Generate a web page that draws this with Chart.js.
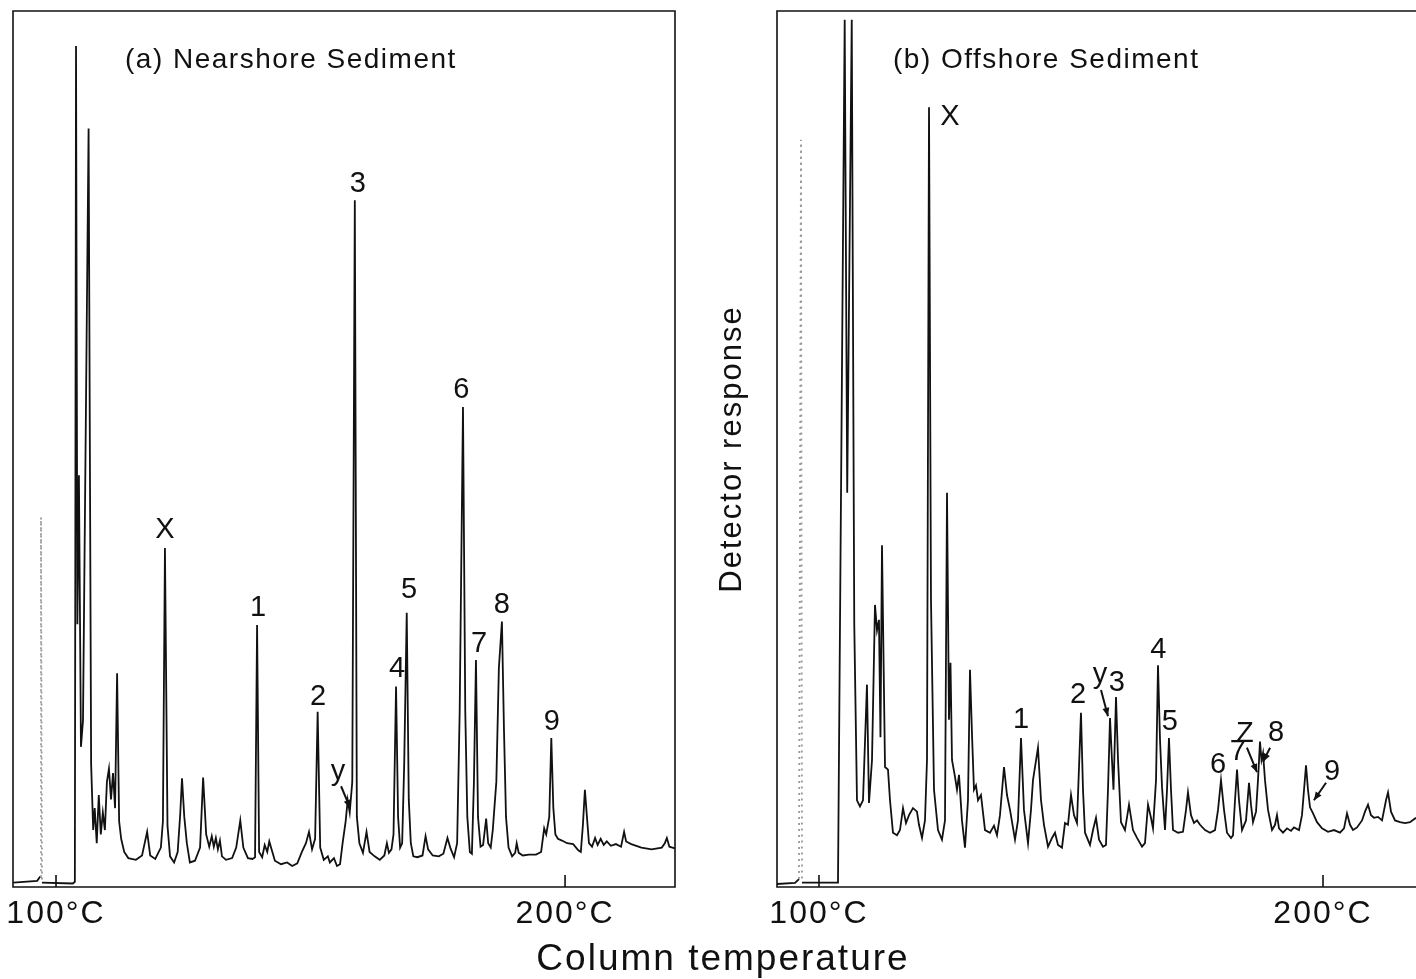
<!DOCTYPE html>
<html lang="en">
<head>
<meta charset="UTF-8">
<title>Sediment chromatograms</title>
<script src="https://cdn.jsdelivr.net/npm/chart.js"></script>
<style>
    body {
        margin: 0;
        width: 1416px;
        height: 979px;
        overflow: hidden;
        position: relative;
        background: #fff;
        font-family: "Liberation Sans", Arial, sans-serif;
    }
    #nearshore { position: absolute; left: 0; top: 0; }
    #offshore { position: absolute; left: 690px; top: 0; }
    #x-title {
        position: absolute;
        left: 423px;
        top: 939px;
        width: 600px;
        text-align: center;
        font-size: 37px;
        line-height: 37px;
        letter-spacing: 2px;
        color: #111;
    }
</style>
</head>
<body>
<canvas id="nearshore" width="690" height="945"></canvas>
<canvas id="offshore" width="740" height="945"></canvas>
<div id="x-title">Column temperature</div>

<script>
// temperature axis labels
const tickTemps = [100, 200];

// (a) nearshore trace: [column temperature °C, detector response]
const nearshorePoints = [
    [91.6,0.5],[96.3,0.7],[96.9,1.2],[97.05,42.2],[97.25,0.5],[103.3,0.4],[103.7,0.6],[103.93,96],
    [104.2,30],[104.5,47],[104.9,16],[105.3,19],[106.4,86.6],[106.9,14],[107.3,6.5],[107.6,9],
    [108.0,5],[108.4,10.5],[108.8,6],[109.2,8.5],[109.6,6.5],[110.0,12],[110.4,13.5],[110.8,10],
    [111.2,13],[111.6,9],[112.0,24.4],[112.4,7.5],[112.8,5.5],[113.4,4],[114.2,3.3],[115.7,3.1],
    [116.9,3.6],[117.9,6.3],[118.5,3.6],[119.5,3.2],[120.6,4.5],[121.0,7.5],[121.4,38.7],[121.9,7],
    [122.4,3.5],[123.2,2.8],[123.9,4],[124.4,8.3],[124.75,12.4],[125.2,8],[125.7,5],[126.3,2.8],
    [127.3,3],[128.3,4.5],[128.9,12.5],[129.5,6],[130.1,4.6],[130.6,5.8],[131.0,4.6],[131.4,5.6],
    [131.8,4.3],[132.2,5.3],[132.6,3.5],[133.4,3.1],[134.6,3.3],[135.4,4.5],[136.2,7.6],[136.8,4.5],
    [137.7,3.3],[138.6,3.2],[139.1,3.4],[139.5,29.9],[139.9,4],[140.5,3.4],[141.0,4.8],[141.5,4],
    [141.9,5.2],[142.4,4.2],[143.0,3.0],[144.2,2.6],[145.4,2.8],[146.4,2.4],[147.4,2.7],[148.3,4],
    [149.1,5],[149.7,6.3],[150.3,4.3],[150.9,5.5],[151.4,20],[151.9,4.5],[152.6,3.1],[153.4,3.5],
    [153.8,2.8],[154.6,3.3],[155.2,2.4],[155.8,2.6],[156.3,5],[156.9,7.5],[157.3,9.9],[157.7,8.5],
    [158.2,12],[158.7,78.4],[159.1,8],[159.6,5],[160.3,3.9],[161.0,6.3],[161.6,4],[162.6,3.5],
    [163.6,3.1],[164.5,3.6],[165.0,5],[165.4,3.9],[165.9,4.3],[166.3,6],[166.8,22.9],[167.2,8],
    [167.6,4.5],[168.0,5],[168.4,14],[168.9,31.3],[169.3,10],[169.7,5],[170.2,3.5],[171.0,3.4],
    [172.0,3.6],[172.6,5.8],[173.1,4.3],[174.0,3.6],[175.2,3.5],[176.1,3.8],[176.9,5.6],[177.5,4.4],
    [178.2,3.4],[178.8,5],[179.3,20],[179.95,54.8],[180.4,20],[180.8,8],[181.3,4],[181.7,3.8],
    [182.1,12],[182.5,25.9],[182.9,8],[183.4,4.6],[183.9,4.8],[184.5,7.8],[184.9,5],[185.4,4.5],
    [185.8,6.5],[186.5,12],[187.0,25],[187.6,30.3],[188.0,18],[188.4,8],[188.9,4.5],[189.6,3.5],
    [190.2,3.9],[190.5,5],[190.9,3.9],[191.7,3.6],[192.9,3.7],[194.3,3.7],[195.3,4],[195.9,6.7],
    [196.3,6],[196.9,8],[197.3,17],[197.7,9],[198.1,6],[198.6,5.5],[199.4,5.3],[200.4,5],
    [201.6,4.9],[202.6,4.2],[203.1,4],[203.5,7],[203.9,11.1],[204.3,8],[204.7,5],[205.3,4.6],
    [205.9,5.6],[206.4,4.8],[207.0,5.5],[207.6,4.8],[208.2,5.2],[209.0,4.7],[210.0,4.9],[211.0,4.6],
    [211.6,6.3],[212.0,5.2],[213.0,4.9],[215.0,4.5],[217.0,4.3],[219.0,4.5],[219.6,5],[220.0,5.6],
    [220.5,4.6],[221.6,4.4]
];

// (b) offshore trace
const offshorePoints = [
    [91.67,0.34],[95.24,0.46],[96.03,0.9],[96.43,85.3],[96.63,0.5],[103.77,0.5],[105.1,99],[105.6,45],
    [106.5,99],[107.0,30],[107.54,9.9],[108.13,9.2],[108.73,9.9],[109.52,23.1],[109.92,9.6],[110.52,14.5],
    [111.11,32.2],[111.51,29.3],[111.9,30.5],[112.2,17.1],[112.5,39.0],[113.1,13.7],[113.69,13.4],[114.09,9.9],
    [114.68,6.2],[115.48,5.9],[116.07,6.5],[116.67,9.0],[117.26,7.3],[117.86,8.2],[118.65,9.0],[119.44,8.6],
    [119.84,7.1],[120.44,5.6],[121.03,7.6],[121.43,14.5],[121.83,89.0],[122.22,32.8],[122.82,11.1],[123.61,6.5],
    [124.4,5.4],[125.0,7.6],[125.4,45.0],[125.79,19.1],[126.09,25.6],[126.39,14.5],[126.98,12.6],[127.38,11.1],
    [127.78,12.8],[128.37,7.6],[128.97,4.5],[129.56,9.9],[129.96,24.8],[130.36,17.4],[130.75,11.1],[131.15,11.6],
    [131.55,9.9],[132.14,10.5],[132.94,6.5],[133.93,6.2],[134.72,7.0],[135.32,5.9],[135.91,8.2],[136.71,13.7],
    [137.3,10.5],[137.9,8.8],[138.89,5.4],[139.48,7.6],[140.08,17.0],[140.67,8.8],[141.47,5.0],[142.06,8.8],
    [142.46,12.2],[143.45,15.9],[144.05,9.9],[144.64,7.1],[145.44,4.6],[146.23,5.6],[146.83,6.2],[147.42,4.8],
    [148.21,4.5],[148.81,7.3],[149.4,7.1],[150.0,10.5],[150.6,8.2],[151.19,7.3],[151.98,19.9],[152.38,11.1],
    [152.78,6.2],[153.77,4.8],[154.37,6.5],[154.96,7.9],[155.56,5.4],[156.35,4.6],[156.94,4.8],[157.34,11.1],
    [157.74,19.3],[158.13,14.5],[158.43,11.1],[158.93,21.7],[159.33,14.5],[159.92,7.4],[160.71,6.5],[161.51,9.4],
    [162.3,6.5],[163.1,5.6],[164.09,4.6],[164.68,5.0],[165.28,9.4],[165.87,7.9],[166.27,6.7],[166.87,12.2],
    [167.26,25.3],[167.66,16.8],[168.06,11.4],[168.65,6.5],[169.05,11.1],[169.44,17.0],[169.84,11.1],[170.24,6.5],
    [171.23,6.2],[172.22,6.3],[172.82,8.8],[173.21,10.8],[173.81,8.2],[174.4,7.3],[175.0,7.6],[175.6,7.1],
    [176.59,6.5],[177.58,6.2],[178.57,6.5],[179.17,8.8],[179.76,12.2],[180.36,8.8],[180.95,6.2],[181.75,5.6],
    [182.14,5.9],[182.54,9.9],[182.94,13.4],[183.33,9.9],[183.93,6.5],[184.72,7.6],[185.32,11.9],[185.71,9.4],
    [186.11,7.4],[186.71,8.6],[187.1,12.2],[187.5,16.6],[187.8,14.5],[188.1,15.3],[188.49,12.2],[189.09,8.8],
    [189.88,6.5],[190.48,7.1],[190.87,8.2],[191.27,6.7],[192.06,6.2],[192.86,6.7],[193.65,6.4],[194.25,6.8],
    [195.24,6.5],[195.83,8.2],[196.63,13.9],[197.02,11.1],[197.42,9.1],[198.02,8.4],[198.81,7.4],[199.8,6.7],
    [200.99,6.3],[202.18,6.5],[203.37,6.2],[204.17,6.7],[204.76,8.4],[205.36,7.1],[205.95,6.5],[206.75,6.8],
    [207.74,7.6],[208.33,8.6],[208.93,9.4],[209.52,8.2],[210.12,7.9],[210.91,8.0],[211.71,7.6],[212.5,9.9],
    [212.9,10.8],[213.49,8.6],[214.29,7.6],[215.28,7.4],[216.27,7.3],[217.26,7.4],[218.45,7.9]
];

// peak labels (text, temperature, response where the label sits)
const nearLabels = ['X', '1', '2', 'y', '3', '4', '5', '6', '7', '8', '9'];
const nearLabelTemps = [121.4, 139.7, 151.5, 155.4, 159.3, 167.0, 169.35, 179.6, 183.1, 187.6, 197.4];
const nearLabelResp = [40.8, 31.8, 21.7, 13.1, 80.3, 24.9, 33.9, 56.7, 27.7, 32.2, 18.8];
const nearArrows = [[156.0, 11.5, 157.8, 9.0]];

const offLabels = ['X', '1', '2', 'y', '3', '4', '5', '6', '7', 'Z', '8', '9'];
const offLabelTemps = [126.0, 140.1, 151.4, 155.75, 159.1, 167.3, 169.6, 179.2, 183.1, 184.5, 190.7, 201.8];
const offLabelResp = [87.9, 19.1, 21.9, 24.2, 23.3, 27.1, 18.8, 13.9, 15.4, 17.5, 17.6, 13.1];
const offArrows = [[155.95, 22.5, 157.34, 19.5], [184.9, 15.9, 186.9, 13.1], [189.5, 15.9, 188.1, 14.3], [200.6, 11.9, 198.2, 9.9]];

const INK = '#111';

// frame, tick marks, panel title, peak labels and arrows
const decorPlugin = {
    id: 'decor',
    beforeDraw(chart) {
        chart.ctx.letterSpacing = '2px';
    },
    afterDraw(chart, args, o) {
        const { ctx, chartArea: a, scales: { x, y } } = chart;
        ctx.save();
        ctx.letterSpacing = '0px';
        ctx.strokeStyle = INK;
        ctx.fillStyle = INK;
        ctx.lineWidth = 1.6;

        ctx.beginPath();
        if (o.closed) {
            ctx.rect(a.left, a.top, a.right - a.left, a.bottom - a.top);
        } else {
            ctx.moveTo(a.right + 2, a.top);
            ctx.lineTo(a.left, a.top);
            ctx.lineTo(a.left, a.bottom);
            ctx.lineTo(a.right + 2, a.bottom);
        }
        tickTemps.forEach(t => {
            const px = x.getPixelForValue(t);
            ctx.moveTo(px, a.bottom);
            ctx.lineTo(px, a.bottom - 12);
        });
        ctx.stroke();

        ctx.font = '28px "Liberation Sans", Arial, sans-serif';
        ctx.letterSpacing = '1.5px';
        ctx.textAlign = 'left';
        ctx.textBaseline = 'alphabetic';
        ctx.fillText(o.title, a.left + o.titleDx, a.top + 57);

        ctx.letterSpacing = '0px';
        ctx.font = '29px "Liberation Sans", Arial, sans-serif';
        ctx.textAlign = 'center';
        ctx.textBaseline = 'middle';
        o.labels.forEach((txt, i) => {
            ctx.fillText(txt, x.getPixelForValue(o.temps[i]), y.getPixelForValue(o.resp[i]));
        });

        ctx.lineWidth = 2;
        o.arrows.forEach(([t0, r0, t1, r1]) => {
            const x0 = x.getPixelForValue(t0), y0 = y.getPixelForValue(r0);
            const x1 = x.getPixelForValue(t1), y1 = y.getPixelForValue(r1);
            const ang = Math.atan2(y1 - y0, x1 - x0);
            ctx.beginPath();
            ctx.moveTo(x0, y0);
            ctx.lineTo(x1, y1);
            ctx.stroke();
            ctx.beginPath();
            ctx.moveTo(x1, y1);
            ctx.lineTo(x1 - 9 * Math.cos(ang - 0.4), y1 - 9 * Math.sin(ang - 0.4));
            ctx.lineTo(x1 - 9 * Math.cos(ang + 0.4), y1 - 9 * Math.sin(ang + 0.4));
            ctx.closePath();
            ctx.fill();
        });
        ctx.restore();
    }
};

function makeChart(id, points, cfg) {
    const xScale = {
        type: 'linear',
        min: cfg.min,
        max: cfg.max,
        grid: { display: false, drawTicks: false },
        border: { display: false },
        afterBuildTicks: s => { s.ticks = tickTemps.map(v => ({ value: v })); },
        afterFit: s => { s.height = 58; s.paddingLeft = 0; s.paddingRight = 0; },
        ticks: {
            autoSkip: false,
            maxRotation: 0,
            padding: 8,
            color: INK,
            font: { family: '"Liberation Sans", Arial, sans-serif', size: 32 },
            callback: v => v + '°C'
        }
    };
    const yScale = cfg.yTitle ? {
        min: 0,
        max: 100,
        grid: { display: false, drawTicks: false },
        border: { display: false },
        ticks: { display: false },
        afterFit: s => { s.width = 67; },
        title: {
            display: true,
            text: cfg.yTitle,
            color: INK,
            font: { family: '"Liberation Sans", Arial, sans-serif', size: 31 },
            padding: { top: 4, bottom: 0 }
        }
    } : { min: 0, max: 100, display: false };

    return new Chart(document.getElementById(id), {
        type: 'line',
        data: {
            datasets: [{
                data: points.map(p => ({ x: p[0], y: p[1] })),
                borderColor: INK,
                borderWidth: 1.8,
                pointRadius: 0,
                tension: 0,
                segment: {
                    // injection marker was drawn faint and broken by the fast pen
                    borderColor: c => (c.p0.parsed.x >= cfg.faint[0] && c.p0.parsed.x < cfg.faint[1]) ? '#999' : undefined,
                    borderDash: c => (c.p0.parsed.x >= cfg.faint[0] && c.p0.parsed.x < cfg.faint[1]) ? [2, 4] : undefined
                }
            }]
        },
        options: {
            responsive: false,
            animation: false,
            events: [],
            layout: { padding: cfg.padding },
            scales: { x: xScale, y: yScale },
            plugins: {
                legend: { display: false },
                tooltip: { enabled: false },
                decor: cfg.decor
            }
        },
        plugins: [decorPlugin]
    });
}

makeChart('nearshore', nearshorePoints, {
    min: 91.55, max: 221.6,
    faint: [96.8, 97.2],
    padding: { left: 13, right: 15, top: 11, bottom: 0 },
    decor: {
        closed: true, title: '(a) Nearshore Sediment', titleDx: 112,
        labels: nearLabels, temps: nearLabelTemps, resp: nearLabelResp, arrows: nearArrows
    }
});

makeChart('offshore', offshorePoints, {
    min: 91.67, max: 218.45,
    faint: [96.0, 96.5],
    yTitle: 'Detector response',
    padding: { left: 20, right: 14, top: 11, bottom: 0 },
    decor: {
        closed: false, title: '(b) Offshore Sediment', titleDx: 116,
        labels: offLabels, temps: offLabelTemps, resp: offLabelResp, arrows: offArrows
    }
});
</script>
</body>
</html>
